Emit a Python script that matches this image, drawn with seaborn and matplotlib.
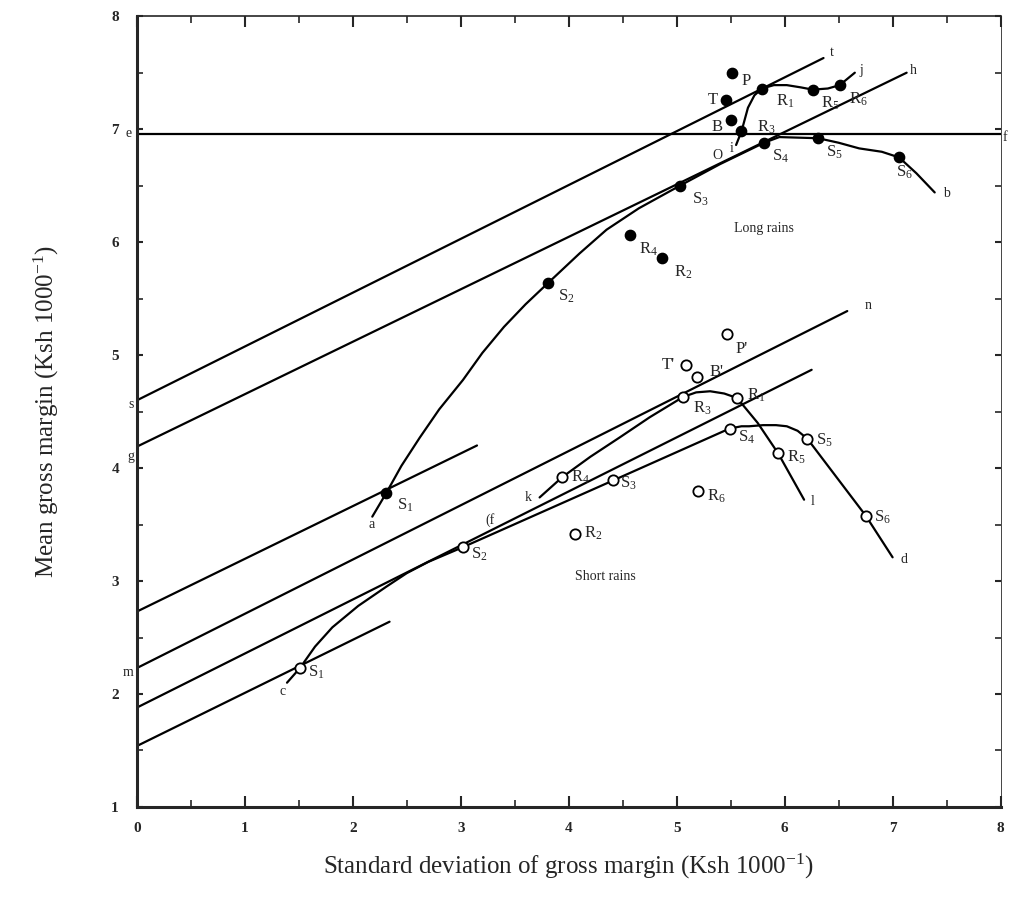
import pandas as pd
import seaborn as sns
import matplotlib.pyplot as plt
from matplotlib.ticker import MultipleLocator

# long rains (filled markers)
long_names = ["S1", "S2", "S3", "S4", "S5", "S6", "R1", "R2", "R3", "R4", "R5", "R6", "P", "T", "B"]
long_x = [2.31, 3.81, 5.03, 5.81, 6.31, 7.06, 5.79, 4.86, 5.60, 4.57, 6.26, 6.51, 5.51, 5.46, 5.50]
long_y = [3.78, 5.64, 6.50, 6.88, 6.92, 6.75, 7.36, 5.86, 6.98, 6.06, 7.35, 7.39, 7.50, 7.26, 7.08]

# short rains (open markers)
short_names = ["S1", "S2", "S3", "S4", "S5", "S6", "R1", "R2", "R3", "R4", "R5", "R6", "P'", "T'", "B'"]
short_x = [1.51, 3.02, 4.41, 5.49, 6.21, 6.75, 5.56, 4.06, 5.06, 3.94, 5.94, 5.20, 5.47, 5.09, 5.19]
short_y = [2.23, 3.30, 3.89, 4.35, 4.26, 3.58, 4.62, 3.42, 4.63, 3.92, 4.13, 3.80, 5.19, 4.91, 4.81]

# straight lines: start and end points
line_ids = ["ef", "st", "gh", "long_s1", "mn", "mid", "short_s1"]
line_x0 = [0, 0, 0, 0, 0, 0, 0]
line_y0 = [6.96, 4.60, 4.19, 2.73, 2.23, 1.88, 1.54]
line_x1 = [8.0, 6.36, 7.13, 3.15, 6.58, 6.25, 2.34]
line_y1 = [6.96, 7.63, 7.50, 4.20, 5.39, 4.87, 2.64]

# curves
long_s_x = [2.18, 2.31, 2.45, 2.62, 2.80, 3.02, 3.20, 3.40, 3.60, 3.81, 4.10, 4.35, 4.65, 5.03, 5.40, 5.81, 5.95, 6.31, 6.50, 6.69, 6.90, 7.06, 7.22, 7.39]
long_s_y = [3.57, 3.78, 4.02, 4.27, 4.52, 4.78, 5.02, 5.25, 5.45, 5.64, 5.90, 6.11, 6.30, 6.50, 6.69, 6.88, 6.93, 6.92, 6.88, 6.83, 6.80, 6.75, 6.61, 6.44]
long_r_x = [5.55, 5.60, 5.66, 5.72, 5.79, 5.90, 6.02, 6.15, 6.26, 6.40, 6.51, 6.65]
long_r_y = [6.86, 6.98, 7.19, 7.30, 7.36, 7.39, 7.39, 7.37, 7.35, 7.36, 7.39, 7.50]
short_s_x = [1.39, 1.51, 1.65, 1.81, 2.05, 2.31, 2.50, 2.70, 3.02, 4.41, 5.49, 5.60, 5.67, 5.80, 5.92, 6.02, 6.12, 6.21, 6.75, 7.00]
short_s_y = [2.10, 2.23, 2.42, 2.59, 2.78, 2.95, 3.07, 3.17, 3.30, 3.89, 4.35, 4.37, 4.37, 4.38, 4.38, 4.37, 4.33, 4.26, 3.58, 3.21]
short_r_x = [3.73, 3.94, 4.20, 4.47, 4.75, 5.06, 5.18, 5.31, 5.44, 5.56, 5.75, 5.94, 6.18]
short_r_y = [3.74, 3.92, 4.10, 4.27, 4.45, 4.63, 4.67, 4.68, 4.66, 4.62, 4.40, 4.13, 3.72]

# letter labels of lines and curve ends
tag_text = ["a", "O", "i", "j", "t", "h", "b", "f", "e", "s", "g", "m", "l", "d", "c", "k", "n", "(f"]
tag_x = [2.17, 5.38, 5.51, 6.71, 6.44, 7.19, 7.50, 8.04, -0.08, -0.05, -0.06, -0.08, 6.26, 7.11, 1.35, 3.62, 6.77, 3.27]
tag_y = [3.50, 6.77, 6.83, 7.52, 7.68, 7.52, 6.43, 6.93, 6.96, 4.56, 4.10, 2.19, 3.70, 3.19, 2.02, 3.74, 5.44, 3.54]

sns.set_theme(style="ticks")
plt.rcParams['font.family'] = ['Liberation Serif', 'DejaVu Serif']
plt.rcParams['mathtext.fontset'] = 'custom'
plt.rcParams['mathtext.rm'] = 'Liberation Serif'
plt.rcParams['mathtext.default'] = 'regular'

fig = plt.figure(figsize=(10.16, 9.11), dpi=100)
ax = fig.add_axes([0.1348, 0.1142, 0.850, 0.868])

rows = []
for k, lid in enumerate(line_ids):
  rows.append((lid, line_x0[k], line_y0[k]))
  rows.append((lid, line_x1[k], line_y1[k]))
for cid, cx, cy in [("long_s", long_s_x, long_s_y), ("long_r", long_r_x, long_r_y),
                    ("short_s", short_s_x, short_s_y), ("short_r", short_r_x, short_r_y)]:
  for j in range(len(cx)):
    rows.append((cid, cx[j], cy[j]))
lines = pd.DataFrame(rows, columns=["id", "x", "y"])
sns.lineplot(data=lines, x="x", y="y", units="id", estimator=None, sort=False,
             color="black", lw=1.6, ax=ax)

long_df = pd.DataFrame({"x": long_x, "y": long_y})
short_df = pd.DataFrame({"x": short_x, "y": short_y})
sns.scatterplot(data=long_df, x="x", y="y", color="black", s=55, edgecolor="black", linewidth=1, zorder=5, ax=ax)
sns.scatterplot(data=short_df, x="x", y="y", color="white", s=55, edgecolor="black", linewidth=1.3, zorder=5, ax=ax)

# label offsets in points
long_off = {"S1": (8, -9), "S2": (7, -10), "S3": (9, -10), "S4": (6, -10), "S5": (6, -10), "S6": (-2, -11),
            "R1": (10, -9), "R2": (9, -10), "R3": (11, 3), "R4": (6, -10), "R5": (6, -10), "R6": (7, -10),
            "P": (7, -6), "T": (-6, 0), "B": (-6, -5)}
short_off = {"S1": (6, -3), "S2": (6, -5), "S3": (5, -2), "S4": (6, -6), "S5": (6, -1), "S6": (6, -1),
             "R1": (7, 2), "R2": (6, 0), "R3": (7, -8), "R4": (6, 0), "R5": (6, -3), "R6": (6, -4),
             "P'": (6, -11), "T'": (-8, 0), "B'": (9, 3)}

def label(name, x, y, off):
  dx, dy = off
  txt = name[0] + "$_{" + name[1] + "}$" if name[1:].isdigit() else name
  ha = "right" if (dx < 0 and name[1:] == "" or name.endswith("'") and dx < 0) else "left"
  ax.annotate(txt, (x, y), xytext=(dx, dy), textcoords="offset points", fontsize=12,
              ha=ha, va="center")

for n, x, y in zip(long_names, long_x, long_y):
  label(n, x, y, long_off[n])
for n, x, y in zip(short_names, short_x, short_y):
  label(n, x, y, short_off[n])

for t, x, y in zip(tag_text, tag_x, tag_y):
  ax.text(x, y, t, fontsize=10, ha="center", va="center", clip_on=False)

ax.text(5.81, 6.12, "Long rains", fontsize=10, ha="center", va="center")
ax.text(4.34, 3.04, "Short rains", fontsize=10, ha="center", va="center")

ax.set_xlim(0, 8)
ax.set_ylim(1, 8)
ax.xaxis.set_major_locator(MultipleLocator(1))
ax.xaxis.set_minor_locator(MultipleLocator(0.5))
ax.yaxis.set_major_locator(MultipleLocator(1))
ax.yaxis.set_minor_locator(MultipleLocator(0.5))
ax.tick_params(which="major", direction="in", length=8, width=1.5, top=True, right=True, labelsize=11, pad=11)
ax.tick_params(which="minor", direction="in", length=5, width=1.2, top=True, right=True)
ax.tick_params(axis="y", which="both", length=4, pad=13)
for lab in ax.get_xticklabels() + ax.get_yticklabels():
  lab.set_fontweight("bold")
ax.spines["left"].set_linewidth(2.2)
ax.spines["bottom"].set_linewidth(2.2)
ax.spines["top"].set_linewidth(1.2)
ax.spines["right"].set_linewidth(0.6)

ax.set_xlabel("Standard deviation of gross margin (Ksh 1000$^{-1}$)", fontsize=18, labelpad=12)
ax.set_ylabel("Mean gross margin (Ksh 1000$^{-1}$)", fontsize=18, labelpad=36)

fig.savefig("out.png", dpi=100)
